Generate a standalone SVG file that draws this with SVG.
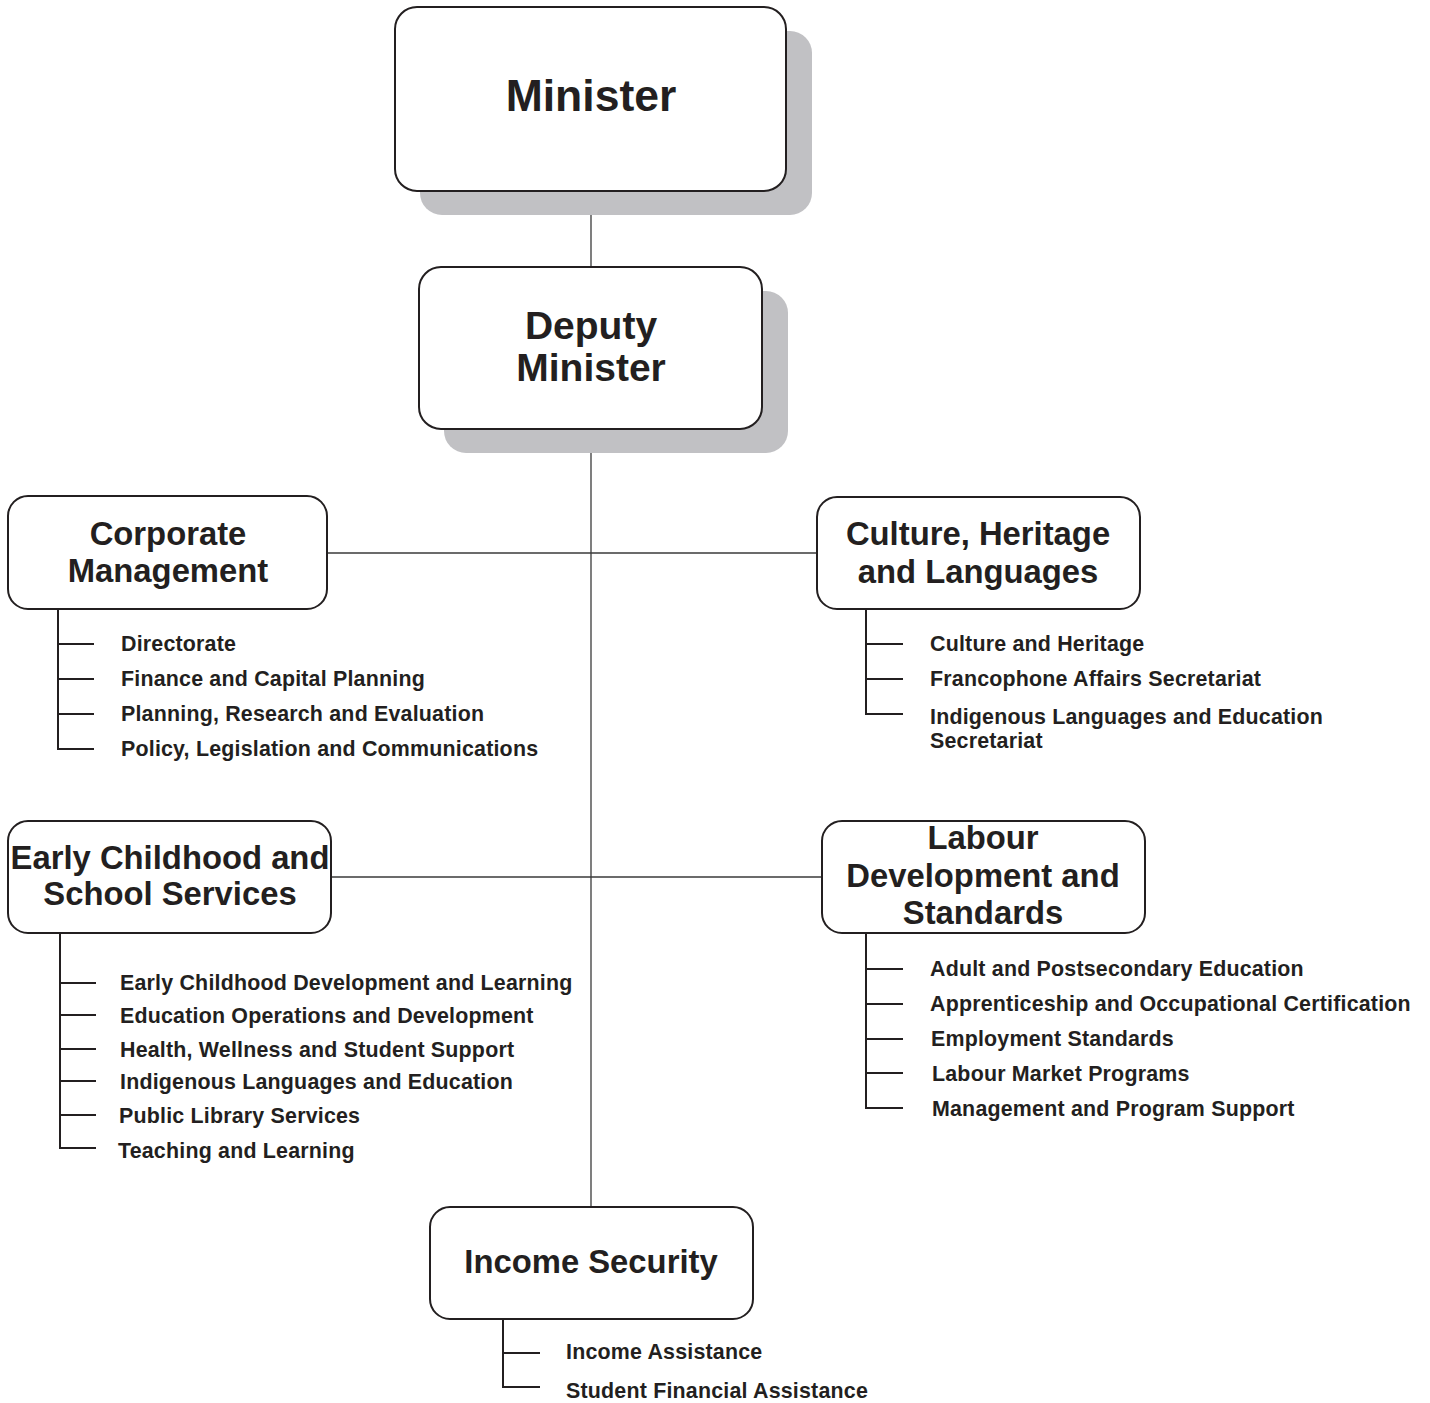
<svg xmlns="http://www.w3.org/2000/svg" width="1430" height="1403" viewBox="0 0 1430 1403">
  <style>
    .box { fill: #ffffff; stroke: #231f20; stroke-width: 2; }
    .shadow { fill: #c1c1c4; }
    .title { font-family: "Liberation Sans", Arial, sans-serif; font-weight: bold; fill: #231f20; text-anchor: middle; }
    .sub { font-size: 32.8px; }
    .item { font-family: "Liberation Sans", Arial, sans-serif; font-weight: bold; font-size: 21.4px; letter-spacing: 0.2px; fill: #231f20; }
    .link { stroke: #3a3a3a; stroke-width: 1.3; fill: none; }
    .branch { stroke: #231f20; stroke-width: 2; fill: none; }
  </style>

  <!-- connectors between the boxes -->
  <g id="connectors">
    <line class="link" x1="591" y1="191" x2="591" y2="267"/>
    <line class="link" x1="591" y1="429" x2="591" y2="1207"/>
    <line class="link" x1="327" y1="553" x2="817" y2="553"/>
    <line class="link" x1="331" y1="877" x2="822" y2="877"/>
  </g>

  <g id="minister">
    <rect class="shadow" x="420" y="31" width="392" height="184" rx="22"/>
    <rect class="box" x="395" y="7" width="391" height="184" rx="22"/>
    <text class="title" x="591" y="111" font-size="44.5">Minister</text>
  </g>

  <g id="deputy-minister">
    <rect class="shadow" x="444" y="291" width="344" height="162" rx="22"/>
    <rect class="box" x="419" y="267" width="343" height="162" rx="22"/>
    <text class="title" x="591" y="339" font-size="39">Deputy</text>
    <text class="title" x="591" y="381" font-size="39">Minister</text>
  </g>

  <g id="corporate-management">
    <rect class="box" x="8" y="496" width="319" height="113" rx="20"/>
    <text class="title sub" x="168" y="545">Corporate</text>
    <text class="title sub" x="168" y="582">Management</text>
    <path class="branch" d="M58 609 V749 H94 M58 644 H94 M58 679 H94 M58 714 H94"/>
    <text class="item" x="121" y="651">Directorate</text>
    <text class="item" x="121" y="686">Finance and Capital Planning</text>
    <text class="item" x="121" y="721">Planning, Research and Evaluation</text>
    <text class="item" x="121" y="756">Policy, Legislation and Communications</text>
  </g>

  <g id="culture-heritage-languages">
    <rect class="box" x="817" y="497" width="323" height="112" rx="20"/>
    <text class="title sub" x="978" y="545">Culture, Heritage</text>
    <text class="title sub" x="978" y="583">and Languages</text>
    <path class="branch" d="M866 609 V714 H903 M866 644 H903 M866 679 H903"/>
    <text class="item" x="930" y="651">Culture and Heritage</text>
    <text class="item" x="930" y="686">Francophone Affairs Secretariat</text>
    <text class="item" x="930" y="724">Indigenous Languages and Education</text>
    <text class="item" x="930" y="748">Secretariat</text>
  </g>

  <g id="early-childhood-school-services">
    <rect class="box" x="8" y="821" width="323" height="112" rx="20"/>
    <text class="title sub" x="170" y="869">Early Childhood and</text>
    <text class="title sub" x="170" y="905">School Services</text>
    <path class="branch" d="M60 933 V1148 H96 M60 983 H96 M60 1015 H96 M60 1049 H96 M60 1081 H96 M60 1115 H96"/>
    <text class="item" x="120" y="990">Early Childhood Development and Learning</text>
    <text class="item" x="120" y="1023">Education Operations and Development</text>
    <text class="item" x="120" y="1057">Health, Wellness and Student Support</text>
    <text class="item" x="120" y="1089">Indigenous Languages and Education</text>
    <text class="item" x="119" y="1123">Public Library Services</text>
    <text class="item" x="118" y="1158">Teaching and Learning</text>
  </g>

  <g id="labour-development-standards">
    <rect class="box" x="822" y="821" width="323" height="112" rx="20"/>
    <text class="title sub" x="983" y="849">Labour</text>
    <text class="title sub" x="983" y="887">Development and</text>
    <text class="title sub" x="983" y="924">Standards</text>
    <path class="branch" d="M866 933 V1108 H903 M866 969 H903 M866 1004 H903 M866 1039 H903 M866 1073 H903"/>
    <text class="item" x="930" y="976">Adult and Postsecondary Education</text>
    <text class="item" x="930" y="1011">Apprenticeship and Occupational Certification</text>
    <text class="item" x="931" y="1046">Employment Standards</text>
    <text class="item" x="932" y="1081">Labour Market Programs</text>
    <text class="item" x="932" y="1116">Management and Program Support</text>
  </g>

  <g id="income-security">
    <rect class="box" x="430" y="1207" width="323" height="112" rx="20"/>
    <text class="title sub" x="591" y="1273">Income Security</text>
    <path class="branch" d="M503 1319 V1387 H540 M503 1353 H540"/>
    <text class="item" x="566" y="1359">Income Assistance</text>
    <text class="item" x="566" y="1398">Student Financial Assistance</text>
  </g>
</svg>
